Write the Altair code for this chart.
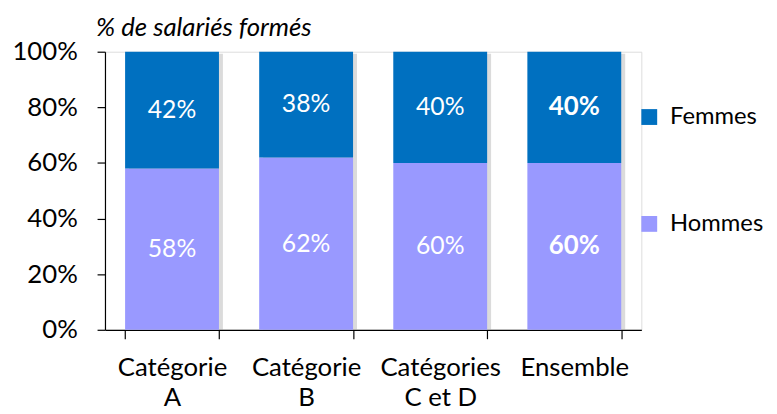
import altair as alt
import pandas as pd

categories = ["Catégorie|A", "Catégorie|B", "Catégories|C et D", "Ensemble"]
femmes = [42, 38, 40, 40]
hommes = [58, 62, 60, 60]
series = ["Femmes", "Hommes"]
colors = ["#0070C0", "#9999FF"]
bold_cats = ["Ensemble"]

rows = []
for c, f, h in zip(categories, femmes, hommes):
    rows.append({"cat": c, "serie": "Hommes", "value": h / 100, "ord": 0, "bold": c in bold_cats})
    rows.append({"cat": c, "serie": "Femmes", "value": f / 100, "ord": 1, "bold": c in bold_cats})
df = pd.DataFrame(rows)

FONT = "Lato"

base = alt.Chart(df).transform_stack(
    stack="value", groupby=["cat"], as_=["v0", "v1"], sort=[alt.SortField("ord")]
).transform_calculate(mid="(datum.v0 + datum.v1) / 2")

xenc = alt.X(
    "cat:N", sort=categories, title=None,
    scale=alt.Scale(paddingInner=0.3, paddingOuter=0.15),
    axis=alt.Axis(
        labelAngle=0, tickBand="extent", labelExpr="split(datum.label, '|')",
        labelLineHeight=31, labelPadding=16, labelFontSize=26, labelFont=FONT,
        labelColor="#000000", domainColor="#000000", tickColor="#000000",
        tickSize=9, domainWidth=1.2, tickWidth=1.2,
    ),
)

shadow = alt.Chart(df).mark_bar(color="#999999", opacity=0.35, xOffset=4, yOffset=2).encode(
    x=xenc,
    y=alt.Y("sum(value):Q"),
)

bars = base.mark_bar().encode(
    x=xenc,
    y=alt.Y(
        "v0:Q", title=None,
        scale=alt.Scale(domain=[0, 1], nice=False),
        axis=alt.Axis(
            format=".0%", values=[0, 0.2, 0.4, 0.6, 0.8, 1.0], grid=False,
            labelFontSize=26, labelFont=FONT, labelColor="#000000",
            labelPadding=20, tickSize=8, domainColor="#000000", tickColor="#000000",
            domainWidth=1.2, tickWidth=1.2,
        ),
    ),
    y2="v1:Q",
    color=alt.Color(
        "serie:N",
        scale=alt.Scale(domain=series, range=colors),
        legend=alt.Legend(
            title=None, orient="none", legendX=538, legendY=54,
            symbolType="square", symbolSize=256, symbolStrokeWidth=0,
            labelFontSize=24, labelFont=FONT, labelColor="#000000",
            rowPadding=84, labelOffset=9,
        ),
    ),
)

labels_normal = base.transform_filter("!datum.bold").mark_text(
    color="white", fontSize=25, font=FONT
).encode(x=alt.X("cat:N", sort=categories), y="mid:Q", text=alt.Text("value:Q", format=".0%"))

labels_bold = base.transform_filter("datum.bold").mark_text(
    color="white", fontSize=26, font=FONT, fontWeight="bold"
).encode(x=alt.X("cat:N", sort=categories), y="mid:Q", text=alt.Text("value:Q", format=".0%"))

chart = alt.layer(shadow, bars, labels_normal, labels_bold).properties(
    width=542, height=281,
    autosize=alt.AutoSizeParams(type="none"),
    padding={"left": 98, "top": 42, "right": 129, "bottom": 90},
    title=alt.TitleParams(
        text="% de salariés formés", anchor="start", frame="group", dx=-9,
        fontStyle="italic", fontWeight="normal", fontSize=26, font=FONT,
        color="#000000", offset=-2,
    ),
).configure_view(stroke=None).configure(background="white")

chart.save("out.html", embed_options={"renderer": "svg", "actions": False})
